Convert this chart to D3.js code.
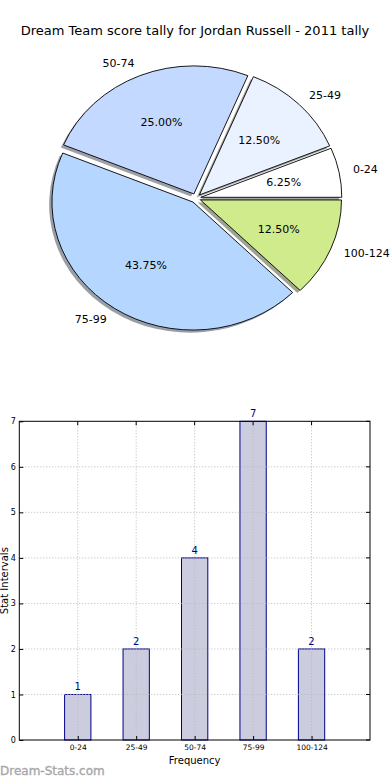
<!DOCTYPE html>
<html><head><meta charset="utf-8">
<script src="https://cdn.jsdelivr.net/npm/d3@7"></script>
<style>body{margin:0;background:#fff}svg{display:block}text{font-family:"DejaVu Sans",sans-serif}</style>
</head><body>
<svg id="c" width="390" height="780"></svg>
<script>
const title = "Dream Team score tally for Jordan Russell - 2011 tally";
const categories = ["0-24","25-49","50-74","75-99","100-124"];
const counts = [1,2,4,7,2];
const pieColors = ["#ffffff","#ebf2ff","#c4d9ff","#b4d6ff","#cfeb8c"];
const yTicks = [0,1,2,3,4,5,6,7];
const xLabel = "Frequency", yLabel = "Stat Intervals", watermark = "Dream-Stats.com";

const svg = d3.select("#c");
svg.append("text").attr("x",195).attr("y",35).attr("text-anchor","middle")
  .attr("font-size",13).text(title);

// ---- Pie (elliptical like matplotlib without equal aspect) ----
const cx = 195.8, cy = 198.2, rx = 141, ry = 128, expl = 0.036;
const total = d3.sum(counts);
const pie = d3.pie().sort(null).startAngle(Math.PI/2).endAngle(Math.PI/2 - 2*Math.PI);
const arcs = pie(counts);
const arc = d3.arc().innerRadius(0).outerRadius(1);
const gp = svg.append("g");
arcs.forEach((a,i)=>{
  const m = (a.startAngle + a.endAngle)/2;
  const ux = Math.sin(m), uy = -Math.cos(m);
  const ox = cx + expl*ux*rx, oy = cy + expl*uy*ry;
  const c = d3.color(pieColors[i]);
  const sh = d3.rgb(c.r*0.3,c.g*0.3,c.b*0.3);
  gp.append("path").attr("d",arc(a))
    .attr("transform",`translate(${ox-2.8},${oy+2.6}) scale(${rx},${ry})`)
    .attr("fill",sh).attr("fill-opacity",0.5);
});
arcs.forEach((a,i)=>{
  const m = (a.startAngle + a.endAngle)/2;
  const ux = Math.sin(m), uy = -Math.cos(m);
  const ox = cx + expl*ux*rx, oy = cy + expl*uy*ry;
  gp.append("path").attr("d",arc(a))
    .attr("transform",`translate(${ox},${oy}) scale(${rx},${ry})`)
    .attr("fill",pieColors[i]).attr("stroke","#000").attr("stroke-width",0.9)
    .attr("vector-effect","non-scaling-stroke").attr("stroke-linejoin","miter");
  gp.append("text").attr("x",ox+1.1*ux*rx).attr("y",oy+1.1*uy*ry)
    .attr("text-anchor", ux>0?"start":"end").attr("dominant-baseline","central")
    .attr("font-size",11).text(categories[i]);
  gp.append("text").attr("x",ox+0.6*ux*rx).attr("y",oy+0.6*uy*ry)
    .attr("text-anchor","middle").attr("dominant-baseline","central")
    .attr("font-size",11).text((counts[i]/total*100).toFixed(2)+"%");
});

// ---- Bar chart ----
const L=19.3, R=370, T=421.3, B=740;
const x = d3.scaleLinear().domain([-1,5]).range([L,R]);
const y = d3.scaleLinear().domain([0,7]).range([B,T]);
const gb = svg.append("g");
const bw = 0.45;
gb.selectAll("rect.bar").data(counts).join("rect").attr("class","bar")
  .attr("x",(d,i)=>x(i-bw/2)).attr("width",x(bw)-x(0))
  .attr("y",d=>y(d)).attr("height",d=>y(0)-y(d))
  .attr("fill","#ccccdf").attr("stroke","#00008b").attr("stroke-width",1);
// grid (on top)
gb.selectAll("line.gy").data(yTicks.slice(1,-1)).join("line")
  .attr("x1",L).attr("x2",R).attr("y1",d=>y(d)).attr("y2",d=>y(d))
  .attr("stroke","#b8b8b8").attr("stroke-dasharray","1,2");
gb.selectAll("line.gx").data(categories).join("line")
  .attr("y1",T).attr("y2",B).attr("x1",(d,i)=>x(i)).attr("x2",(d,i)=>x(i))
  .attr("stroke","#b8b8b8").attr("stroke-dasharray","1,2");
// frame
gb.append("rect").attr("x",L).attr("y",T).attr("width",R-L).attr("height",B-T)
  .attr("fill","none").attr("stroke","#000").attr("stroke-width",1);
// y axis
const ya = d3.axisLeft(y).tickValues(yTicks).tickFormat(d3.format("d")).tickSize(-4).tickPadding(3.5);
const yg = gb.append("g").attr("transform",`translate(${L},0)`).call(ya);
yg.select(".domain").remove();
yg.selectAll("text").attr("font-size",8).attr("font-family","DejaVu Sans");
// right ticks
gb.selectAll("line.rt").data(yTicks).join("line")
  .attr("x1",R).attr("x2",R-4).attr("y1",d=>y(d)).attr("y2",d=>y(d)).attr("stroke","#000");
// x axis
const xa = d3.axisBottom(x).tickValues(d3.range(categories.length))
  .tickFormat(i=>categories[i]).tickSize(-4).tickPadding(5);
const xg = gb.append("g").attr("transform",`translate(0,${B})`).call(xa);
xg.select(".domain").remove();
xg.selectAll("text").attr("font-size",7.5).attr("font-family","DejaVu Sans");
gb.selectAll("line.tt").data(categories).join("line")
  .attr("x1",(d,i)=>x(i)).attr("x2",(d,i)=>x(i)).attr("y1",T).attr("y2",T+4).attr("stroke","#000");
// value labels
gb.selectAll("text.v").data(counts).join("text")
  .attr("x",(d,i)=>x(i)).attr("y",d=>y(d)-4).attr("text-anchor","middle")
  .attr("font-size",10).attr("fill","#00008b").text(d=>d);
gb.append("text").attr("x",(L+R)/2).attr("y",764).attr("text-anchor","middle")
  .attr("font-size",10).text(xLabel);
gb.append("text").attr("transform",`translate(8.2,${(T+B)/2}) rotate(-90)`)
  .attr("text-anchor","middle").attr("font-size",10).text(yLabel);
svg.append("text").attr("x",0).attr("y",775).attr("font-size",12)
  .attr("fill","#a8a8a8").attr("stroke","#a8a8a8").attr("stroke-width",0.35).text(watermark);
</script>
</body></html>
